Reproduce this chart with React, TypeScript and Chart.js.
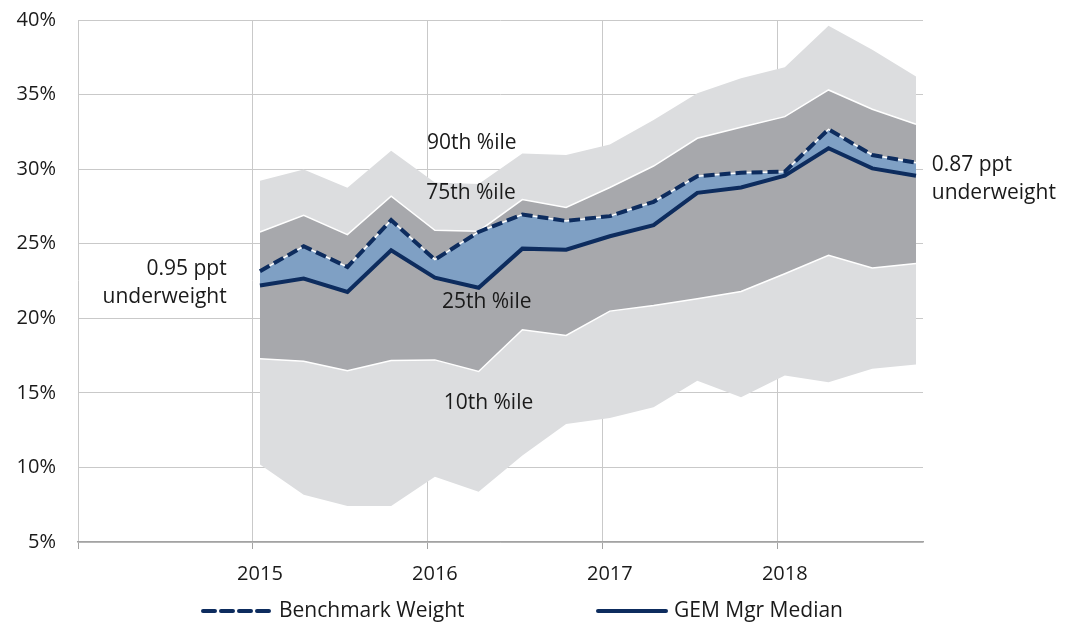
import React, { useEffect, useRef } from 'react';
import { Chart, registerables } from 'chart.js';

Chart.register(...registerables);

// Quarterly observation dates (decimal years)
const X_DATES = [
  2015.04, 2015.29, 2015.54, 2015.79,
  2016.04, 2016.29, 2016.54, 2016.79,
  2017.04, 2017.29, 2017.54, 2017.79,
  2018.04, 2018.29, 2018.54, 2018.79,
];

const BENCHMARK = [23.15, 24.83, 23.44, 26.58, 23.93, 25.79, 26.96, 26.53, 26.85, 27.81, 29.53, 29.76, 29.83, 32.67, 30.95, 30.43];
const MEDIAN = [22.2, 22.66, 21.76, 24.56, 22.72, 22.05, 24.67, 24.6, 25.5, 26.24, 28.41, 28.77, 29.56, 31.4, 30.05, 29.56];
const P90 = [29.22, 29.98, 28.75, 31.24, 29.1, 29.0, 31.05, 30.95, 31.66, 33.3, 35.09, 36.1, 36.84, 39.62, 38.0, 36.21];
const P75 = [25.79, 26.91, 25.61, 28.19, 25.9, 25.84, 27.96, 27.43, 28.77, 30.21, 32.07, 32.81, 33.52, 35.31, 34.02, 33.01];
const P25 = [17.28, 17.12, 16.49, 17.17, 17.21, 16.43, 19.23, 18.85, 20.48, 20.86, 21.31, 21.8, 22.99, 24.22, 23.37, 23.67];
const P10 = [10.2, 8.16, 7.42, 7.42, 9.37, 8.37, 10.8, 12.91, 13.31, 14.03, 15.82, 14.7, 16.16, 15.71, 16.61, 16.9];

const X_TICKS = [2014, 2015, 2016, 2017, 2018];
const Y_TICKS = [5, 10, 15, 20, 25, 30, 35, 40];

const SERIES_NAMES = ['Benchmark Weight', 'GEM Mgr Median'];

// Text annotations (data coordinates)
const BAND_LABELS = [
  { text: '90th %ile', x: 2015.995, y: 31.77, align: 'left' },
  { text: '75th %ile', x: 2015.99, y: 28.41, align: 'left' },
  { text: '25th %ile', x: 2016.08, y: 21.08, align: 'left' },
  { text: '10th %ile', x: 2016.09, y: 14.3, align: 'left' },
  { text: '0.95 ppt', x: 2014.85, y: 23.33, align: 'right' },
  { text: 'underweight', x: 2014.85, y: 21.42, align: 'right' },
  { text: '0.87 ppt', x: 2018.88, y: 30.27, align: 'left' },
  { text: 'underweight', x: 2018.88, y: 28.39, align: 'left' },
];

const NAVY = '#0d2c5e';
const BLUE = '#7fa0c4';
const DARK = '#a7a8ac';
const LIGHT = '#dcdddf';
const GRID = '#c9c9c9';
const AXIS = '#a3a3a3';
const TEXT = '#1a1a1a';
const FONT_FAMILY = '"Open Sans", "Noto Sans", sans-serif';
const TICK_FONT_SIZE = 20;
const TEXT_FONT_SIZE = 21;

export default function App() {
  const ref = useRef<HTMLCanvasElement>(null);

  useEffect(() => {
    if (!ref.current) return;
    const pts = (arr: number[]) => arr.map((y, i) => ({ x: X_DATES[i], y }));

    const annotations = {
      id: 'annotations',
      afterDraw(chart: any) {
        const { ctx, scales } = chart;
        ctx.save();
        ctx.font = `${TEXT_FONT_SIZE}px ${FONT_FAMILY}`;
        ctx.fillStyle = TEXT;
        ctx.textBaseline = 'middle';
        BAND_LABELS.forEach((l) => {
          ctx.textAlign = l.align;
          ctx.fillText(l.text, scales.x.getPixelForValue(l.x), scales.y.getPixelForValue(l.y));
        });
        ctx.restore();
      },
    };

    const legend = {
      id: 'customLegend',
      afterDraw(chart: any) {
        const { ctx } = chart;
        const items = [
          { ds: chart.data.datasets[0], text: SERIES_NAMES[0], x: 201 },
          { ds: chart.data.datasets[2], text: SERIES_NAMES[1], x: 596 },
        ];
        const lineLen = 72;
        const gap = 6;
        const y = 611;
        ctx.save();
        ctx.font = `${TEXT_FONT_SIZE}px ${FONT_FAMILY}`;
        items.forEach((it) => {
          ctx.beginPath();
          ctx.strokeStyle = it.ds.borderColor;
          ctx.lineWidth = it.ds.borderWidth;
          ctx.setLineDash(it.ds.borderDash ? [12, 6] : []);
          ctx.lineCap = 'round';
          ctx.moveTo(it.x + 2, y);
          ctx.lineTo(it.x + lineLen - 2, y);
          ctx.stroke();
          ctx.setLineDash([]);
          ctx.fillStyle = TEXT;
          ctx.textAlign = 'left';
          ctx.textBaseline = 'middle';
          ctx.fillText(it.text, it.x + lineLen + gap, y);
        });
        ctx.restore();
      },
    };

    const chart = new Chart(ref.current, {
      type: 'line',
      data: {
        datasets: [
          {
            label: SERIES_NAMES[0],
            data: pts(BENCHMARK),
            borderColor: NAVY,
            borderWidth: 4,
            borderDash: [11, 5],
            backgroundColor: BLUE,
            fill: 2,
          },
          {
            label: 'benchmark-underline',
            data: pts(BENCHMARK),
            borderColor: '#ffffff',
            borderWidth: 1.5,
            fill: false,
          },
          {
            label: SERIES_NAMES[1],
            data: pts(MEDIAN),
            borderColor: NAVY,
            borderWidth: 4,
            fill: false,
          },
          {
            label: '75th %ile',
            data: pts(P75),
            borderColor: '#ffffff',
            borderWidth: 1.5,
            backgroundColor: DARK,
            fill: 4,
          },
          {
            label: '25th %ile',
            data: pts(P25),
            borderColor: '#ffffff',
            borderWidth: 1.5,
            fill: false,
          },
          {
            label: '90th %ile',
            data: pts(P90),
            borderColor: 'rgba(0,0,0,0)',
            borderWidth: 1,
            backgroundColor: LIGHT,
            fill: 6,
          },
          {
            label: '10th %ile',
            data: pts(P10),
            borderColor: 'rgba(0,0,0,0)',
            borderWidth: 1,
            fill: false,
          },
        ],
      },
      options: {
        responsive: true,
        maintainAspectRatio: false,
        animation: false,
        elements: { point: { radius: 0 }, line: { tension: 0 } },
        layout: { padding: { left: 0, right: 152, top: 20, bottom: 25 } },
        plugins: {
          legend: { display: false },
          tooltip: { enabled: false },
          filler: { drawTime: 'beforeDatasetsDraw' },
        },
        scales: {
          x: {
            type: 'linear',
            min: X_TICKS[0],
            max: 2018.83,
            afterBuildTicks: (s: any) => {
              s.ticks = X_TICKS.map((v) => ({ value: v }));
            },
            grid: { color: GRID, lineWidth: 1, drawTicks: true, tickLength: 7, tickColor: AXIS },
            border: { color: AXIS, width: 1.5 },
            ticks: {
              autoSkip: false,
              maxRotation: 0,
              padding: 13,
              labelOffset: 7,
              color: TEXT,
              font: { family: FONT_FAMILY, size: TICK_FONT_SIZE },
              callback: (v: any) => (v === X_TICKS[0] ? '' : String(v)),
            },
          },
          y: {
            min: Y_TICKS[0],
            max: Y_TICKS[Y_TICKS.length - 1],
            afterBuildTicks: (s: any) => {
              s.ticks = Y_TICKS.map((v) => ({ value: v }));
            },
            afterFit: (s: any) => {
              s.width = 78;
              s.paddingTop = 0;
              s.paddingBottom = 0;
            },
            grid: { color: GRID, lineWidth: 1, drawTicks: false },
            border: { display: false },
            ticks: {
              padding: 22,
              color: TEXT,
              font: { family: FONT_FAMILY, size: TICK_FONT_SIZE },
              callback: (v: any) => `${v}%`,
            },
          },
        },
      },
      plugins: [annotations, legend],
    });
    return () => chart.destroy();
  }, []);

  return (
    <div style={{ position: 'absolute', left: 0, top: 0, width: 1075, height: 624 }}>
      <canvas ref={ref} />
    </div>
  );
}
